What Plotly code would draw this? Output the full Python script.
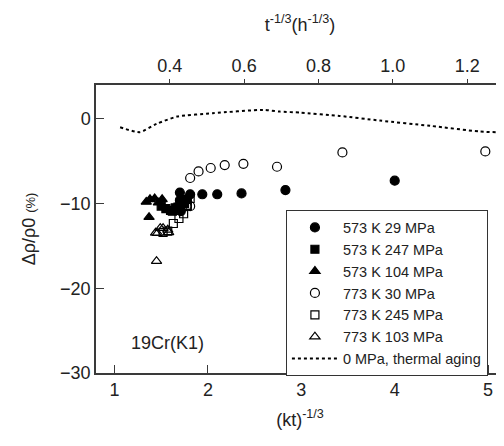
import plotly.graph_objects as go

# ---- data ----
k_factor = 3.98  # (kt)^-1/3 = k_factor * t^-1/3

s573_29_x = [1.70, 1.70, 1.71, 1.81, 1.94, 2.10, 2.36, 2.83, 4.00]
s573_29_y = [-8.7, -9.6, -10.9, -8.9, -8.9, -8.9, -8.8, -8.4, -7.3]

s573_247_x = [1.50, 1.55, 1.60, 1.62, 1.65, 1.68, 1.70, 1.75, 1.78]
s573_247_y = [-10.3, -10.6, -10.8, -10.9, -10.5, -10.4, -10.2, -10.0, -9.5]

s573_104_x = [1.34, 1.38, 1.43, 1.47, 1.51, 1.37]
s573_104_y = [-9.8, -9.5, -9.4, -9.9, -9.5, -11.6]

s773_30_x = [1.77, 1.81, 1.81, 1.90, 2.03, 2.18, 2.38, 2.74, 3.44, 4.97]
s773_30_y = [-10.3, -10.3, -6.98, -6.2, -5.8, -5.45, -5.3, -5.65, -3.96, -3.84]

s773_245_x = [1.52, 1.57, 1.63, 1.69, 1.74, 1.78, 1.81]
s773_245_y = [-13.4, -13.25, -12.35, -11.76, -11.2, -10.2, -9.4]

s773_103_x = [1.44, 1.46, 1.49, 1.52, 1.57, 1.58, 1.45]
s773_103_y = [-13.45, -13.5, -12.9, -12.9, -13.1, -13.4, -16.8]

thermal_x = [1.06, 1.27, 1.45, 1.67, 2.05, 2.59, 2.77, 2.99, 3.41, 3.84, 4.38, 4.91, 5.16]
thermal_y = [-0.98, -1.57, -0.59, 0.27, 0.67, 1.06, 0.86, 0.74, 0.35, -0.2, -0.82, -1.49, -1.6]

names = ["573 K 29 MPa", "573 K 247 MPa", "573 K 104 MPa",
         "773 K 30 MPa", "773 K 245 MPa", "773 K 103 MPa",
         "0 MPa, thermal aging"]

x_ticks = [1, 2, 3, 4, 5]
y_ticks = [-30, -20, -10, 0]
top_ticks = [0.4, 0.6, 0.8, 1.0, 1.2]
top_tick_labels = ["0.4", "0.6", "0.8", "1.0", "1.2"]

x_range = [0.802, 5.170]
y_range = [-30, 4]

FONT = "Liberation Sans, Arial, sans-serif"
AX = "#3a3a3a"

fig = go.Figure()

def add(xs, ys, name, symbol, size=9):
    fig.add_trace(go.Scatter(
        x=xs, y=ys, mode="markers", name=name,
        marker=dict(symbol=symbol, size=size, color="black",
                    line=dict(color="black", width=1.2)),
    ))

add(s573_29_x, s573_29_y, names[0], "circle")
add(s573_247_x, s573_247_y, names[1], "square", 8)
add(s573_104_x, s573_104_y, names[2], "triangle-up", 9)
add(s773_30_x, s773_30_y, names[3], "circle-open")
add(s773_245_x, s773_245_y, names[4], "square-open", 8)
add(s773_103_x, s773_103_y, names[5], "triangle-up-open", 9)

fig.add_trace(go.Scatter(
    x=thermal_x, y=thermal_y, mode="lines", name=names[6],
    line=dict(color="black", width=2, dash="dot", shape="spline", smoothing=0.6),
))

# invisible trace to activate the top axis
fig.add_trace(go.Scatter(x=[x_range[0] / k_factor], y=[y_range[0]], xaxis="x2",
                         mode="markers", marker=dict(opacity=0), showlegend=False,
                         hoverinfo="skip"))

fig.update_layout(
    # page body has an 8px default margin; size chosen so nothing overflows
    width=496, height=430,
    margin=dict(l=88, r=0, t=77, b=65, autoexpand=False),
    paper_bgcolor="white", plot_bgcolor="white",
    font=dict(family=FONT, size=18, color="#222"),
    showlegend=True,
    legend=dict(
        x=0.465, y=0.565, xanchor="left", yanchor="top",
        bordercolor="#333", borderwidth=1.2, bgcolor="white",
        font=dict(family=FONT, size=14.5, color="#222"),
        itemwidth=46, tracegroupgap=0,
    ),
    xaxis=dict(
        range=x_range, tickvals=x_ticks, ticks="inside", ticklen=8,
        tickcolor=AX, showline=True, linecolor=AX, linewidth=1.5,
        showgrid=False, zeroline=False, mirror=False, automargin=False,
        title=dict(text="(kt)<sup>-1/3</sup>", font=dict(size=18), standoff=14),
        tickfont=dict(size=18),
    ),
    xaxis2=dict(
        overlaying="x", side="top", anchor="y", automargin=False,
        range=[x_range[0] / k_factor, x_range[1] / k_factor],
        tickvals=top_ticks, ticktext=top_tick_labels,
        ticks="outside", ticklen=4, tickcolor=AX,
        showline=True, linecolor=AX, linewidth=1.5,
        showgrid=False, zeroline=False,
        title=dict(text="t<sup>-1/3</sup>(h<sup>-1/3</sup>)", font=dict(size=18), standoff=20),
        tickfont=dict(size=18),
    ),
    yaxis=dict(
        range=y_range, tickvals=y_ticks, ticks="inside", ticklen=8,
        tickcolor=AX, showline=True, linecolor=AX, linewidth=1.5,
        showgrid=False, zeroline=False, automargin=False,
        title=dict(text="Δρ/ρ0 <span style='font-size:13px'>(%)</span>",
                   font=dict(size=18), standoff=20),
        tickfont=dict(size=18),
    ),
)

fig.add_annotation(
    x=1.57, y=-26.4, xref="x", yref="y", text="19Cr(K1)", showarrow=False,
    font=dict(family=FONT, size=18, color="#222"),
)

fig.write_html("out.html")
